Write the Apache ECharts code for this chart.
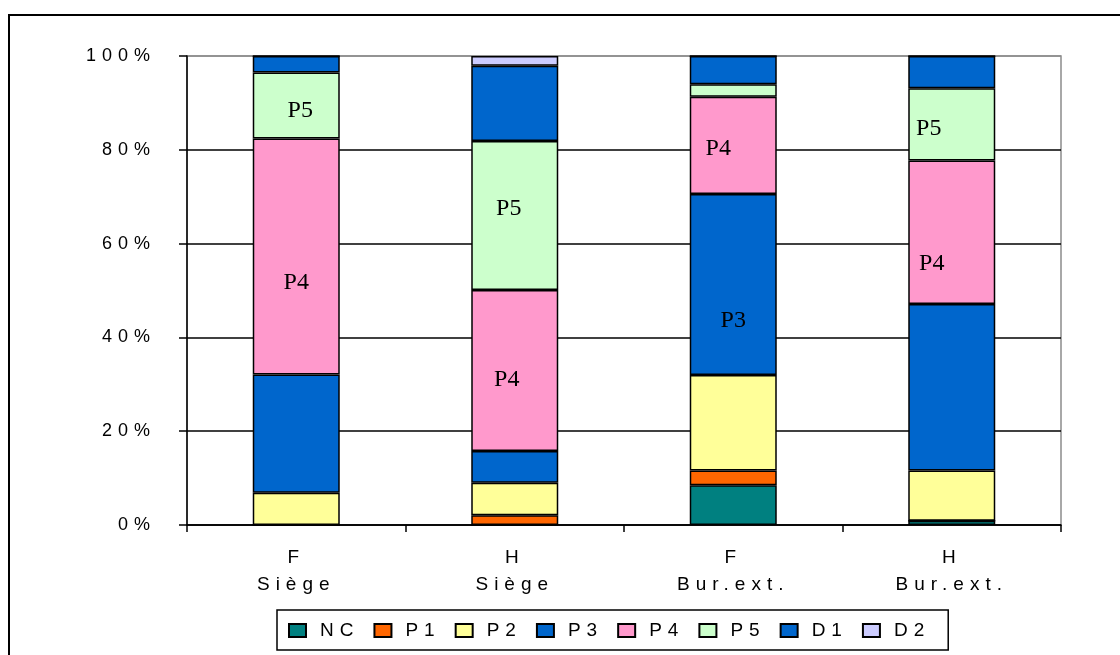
<!DOCTYPE html>
<html>
<head>
<meta charset="utf-8">
<script src="https://cdn.jsdelivr.net/npm/echarts@6/dist/echarts.min.js"></script>
<style>
html,body{margin:0;padding:0;background:#fff;}
#chart{width:1120px;height:655px;}
</style>
</head>
<body>
<div id="chart"></div>
<script>
// ---- data ----
const categories = ['F\nSiège', 'H\nSiège', 'F\nBur.ext.', 'H\nBur.ext.'];
const seriesNames = ['NC', 'P1', 'P2', 'P3', 'P4', 'P5', 'D1', 'D2'];
const NC = [0, 0, 8.5, 0.9];
const P1 = [0, 2.1, 3.1, 0];
const P2 = [6.9, 6.9, 20.4, 10.7];
const P3 = [25.2, 6.8, 38.6, 35.5];
const P4 = [50.3, 34.3, 20.7, 30.6];
const P5 = [14.1, 31.8, 2.7, 15.4];
const D1 = [3.5, 16.0, 6.0, 6.9];
const D2 = [0, 2.1, 0, 0];
const yTicks = [0, 20, 40, 60, 80, 100];

// ---- letter-spaced sans text (emulates the spaced Excel fonts) ----
(function () {
  const P = CanvasRenderingContext2D.prototype;
  function setSpacing(ctx) {
    if (!('letterSpacing' in ctx)) return;
    const f = ctx.font || '';
    if (f.indexOf('Liberation Sans') >= 0) {
      const m = f.match(/(\d+(?:\.\d+)?)px/);
      const s = m ? Math.round(parseFloat(m[1]) * 0.33) : 0;
      ctx.letterSpacing = s + 'px';
    } else {
      ctx.letterSpacing = '0px';
    }
  }
  const oFill = P.fillText, oStroke = P.strokeText, oMeasure = P.measureText;
  P.fillText = function () { setSpacing(this); return oFill.apply(this, arguments); };
  P.strokeText = function () { setSpacing(this); return oStroke.apply(this, arguments); };
  P.measureText = function () { setSpacing(this); return oMeasure.apply(this, arguments); };
})();

const seriesValues = { NC, P1, P2, P3, P4, P5, D1, D2 };
const colors = {
  NC: '#008080', P1: '#FF6600', P2: '#FFFF99', P3: '#0066CC',
  P4: '#FF99CC', P5: '#CCFFCC', D1: '#0066CC', D2: '#CCCCFF'
};
// manual label placements (offsets from segment centre)
const labelOffsets = {
  P3: [null, null, [0, 36], null],
  P4: [[0, 26], [-8, 9], [-15, 3], [-20, 31]],
  P5: [[4, 5], [-6, -7], null, [-23, 4]]
};

const SANS = 'Liberation Sans, Arial, sans-serif';

const series = seriesNames.map(name => ({
  name: name,
  type: 'bar',
  stack: 'total',
  barWidth: 87,
  itemStyle: { color: colors[name], borderColor: '#000', borderWidth: 1.5 },
  label: {
    show: false,
    position: 'inside',
    formatter: '{a}',
    color: '#000',
    fontFamily: 'Liberation Serif, Times New Roman, serif',
    fontSize: 24
  },
  emphasis: { disabled: true },
  data: seriesValues[name].map((v, i) => {
    const off = labelOffsets[name] && labelOffsets[name][i];
    return off ? { value: v, label: { show: true, offset: off } } : v;
  })
}));

const chart = echarts.init(document.getElementById('chart'), null, { renderer: 'canvas' });
chart.setOption({
  animation: false,
  backgroundColor: '#fff',
  graphic: [{
    type: 'rect',
    shape: { x: 9, y: 15, width: 1300, height: 800 },
    style: { fill: 'none', stroke: '#000', lineWidth: 2 },
    silent: true
  }],
  grid: {
    left: 187, right: 59, top: 56, bottom: 130,
    show: true, borderColor: '#8c8c8c', borderWidth: 1.5, backgroundColor: 'transparent'
  },
  legend: {
    data: seriesNames,
    left: 277, top: 610,
    orient: 'horizontal',
    itemWidth: 17, itemHeight: 13, itemGap: 14,
    padding: [8, 18, 7, 11],
    borderColor: '#000', borderWidth: 1.5,
    icon: 'rect',
    textStyle: { fontFamily: SANS, fontSize: 19, color: '#000', padding: [0, 0, 0, 9] },
    selectedMode: false
  },
  xAxis: {
    type: 'category',
    data: categories,
    axisLine: { lineStyle: { color: '#000', width: 1.5 } },
    axisTick: { show: true, length: 7, lineStyle: { color: '#000', width: 1.5 } },
    axisLabel: { fontFamily: SANS, fontSize: 19, color: '#000', lineHeight: 27, margin: 19 }
  },
  yAxis: {
    type: 'value',
    min: yTicks[0], max: yTicks[yTicks.length - 1], interval: 20,
    axisLine: { show: true, lineStyle: { color: '#000', width: 1.5 } },
    axisTick: { show: true, length: 8, lineStyle: { color: '#000', width: 1.5 } },
    axisLabel: { fontFamily: SANS, fontSize: 18, color: '#000', margin: 31, formatter: '{value}%' },
    splitLine: { show: true, lineStyle: { color: ['#000', '#000', '#000', '#000', '#000', '#8c8c8c'], width: 1.5 } }
  },
  series: series
});
</script>
</body>
</html>
